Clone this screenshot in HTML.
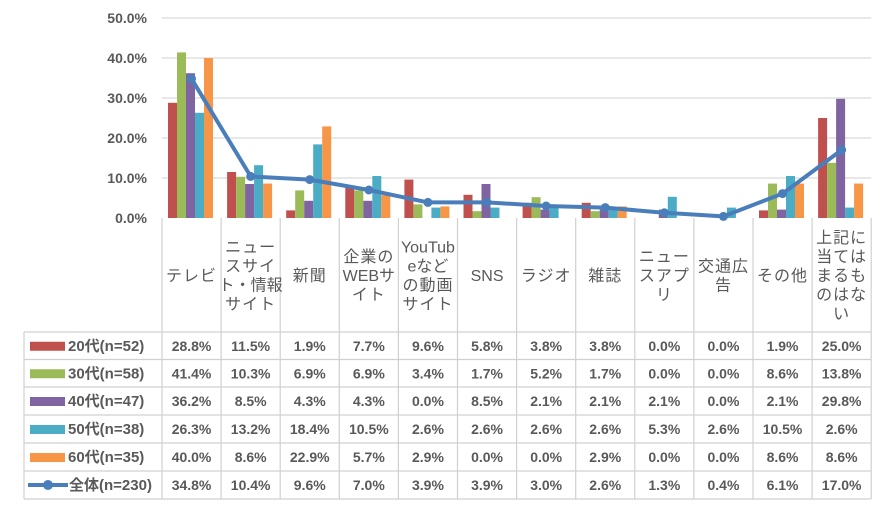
<!DOCTYPE html>
<html><head><meta charset="utf-8"><style>
body{margin:0;background:#fff;width:888px;height:502px;overflow:hidden}
svg text{font-family:"Liberation Sans","Noto Sans CJK JP",sans-serif;fill:#595959}
</style></head><body>
<svg id="chart" width="888" height="502" xmlns="http://www.w3.org/2000/svg"></svg>
<script>
const categories=["テレビ","ニュースサイト・情報サイト","新聞","企業のWEBサイト","YouTubeなどの動画サイト","SNS","ラジオ","雑誌","ニュースアプリ","交通広告","その他","上記に当てはまるものはない"];
const headerLines=[["テレビ"],["ニュー","スサイ","ト・情報","サイト"],["新聞"],["企業の","WEBサ","イト"],["YouTub","eなど","の動画","サイト"],["SNS"],["ラジオ"],["雑誌"],["ニュー","スアプ","リ"],["交通広","告"],["その他"],["上記に","当ては","まるも","のはな","い"]];
const seriesNames=["20代(n=52)","30代(n=58)","40代(n=47)","50代(n=38)","60代(n=35)"];
const s20=[28.8,11.5,1.9,7.7,9.6,5.8,3.8,3.8,0.0,0.0,1.9,25.0];
const s30=[41.4,10.3,6.9,6.9,3.4,1.7,5.2,1.7,0.0,0.0,8.6,13.8];
const s40=[36.2,8.5,4.3,4.3,0.0,8.5,2.1,2.1,2.1,0.0,2.1,29.8];
const s50=[26.3,13.2,18.4,10.5,2.6,2.6,2.6,2.6,5.3,2.6,10.5,2.6];
const s60=[40.0,8.6,22.9,5.7,2.9,0.0,0.0,2.9,0.0,0.0,8.6,8.6];
const total=[34.8,10.4,9.6,7.0,3.9,3.9,3.0,2.6,1.3,0.4,6.1,17.0];
const totalName="全体(n=230)";
const yTicks=[0,10,20,30,40,50];

const NS="http://www.w3.org/2000/svg";
const svg=document.getElementById('chart');
const colors=["#c0504d","#9bbb59","#8064a2","#4bacc6","#f79646"];
const lineColor="#4a7ebb";
const x0=162,cw=59.1,yBase=218,pxPer=4.0;
const xs=i=>x0+i*cw;
const ys=v=>yBase-v*pxPer;
function mk(t,a){const e=document.createElementNS(NS,t);for(const k in a)e.setAttribute(k,a[k]);svg.appendChild(e);return e;}
yTicks.forEach(t=>{
  if(t>0){const g=mk('line',{x1:x0,x2:x0+12*cw,y1:ys(t),y2:ys(t),stroke:'#d9d9d9','stroke-width':1.2});
  
  }
  const l=mk('text',{x:147,y:ys(t)+5,'text-anchor':'end','font-size':14,'font-weight':'bold'});
  l.textContent=t.toFixed(1)+'%';
  
  
});
const all=[s20,s30,s40,s50,s60];
const bw=9;
all.forEach((s,si)=>{
  s.forEach((v,i)=>{
    const r=mk('rect',{x:xs(i)+6+si*bw,y:ys(v),width:bw,height:v*pxPer,fill:colors[si]});
    
    
  });
});
const pts=total.map((v,i)=>(xs(i)+cw/2)+','+ys(v)).join(' ');
const pl=mk('polyline',{points:pts,fill:'none',stroke:lineColor,'stroke-width':4,'stroke-linejoin':'round'});


total.forEach((v,i)=>{
  const c=mk('circle',{cx:xs(i)+cw/2,cy:ys(v),r:4.5,fill:lineColor});
  
  
});
const rowTops=[332,359.5,387,415,443,471,499];
const grid='#d0d0d0';
for(let i=0;i<=12;i++){
  const l=mk('line',{x1:xs(i),x2:xs(i),y1:yBase,y2:499,stroke:grid,'stroke-width':1.2});
  
  
}
const lv=mk('line',{x1:24,x2:24,y1:332,y2:499,stroke:grid,'stroke-width':1.2});


rowTops.forEach(y=>{
  const l=mk('line',{x1:24,x2:xs(12),y1:y,y2:y,stroke:grid,'stroke-width':1.2});
  
  
});
headerLines.forEach((lines,i)=>{
  const lh=19,n=lines.length,start=275-(n-1)*lh/2;
  lines.forEach((s,k)=>{
    const t=mk('text',{x:xs(i)+cw/2,y:start+k*lh+6,'text-anchor':'middle','font-size':16,'letter-spacing':s.length<=3&&/^[^A-Za-z]+$/.test(s)?1:0});
    t.textContent=s;
    
    
  });
});
const rows=[...all,total];
const names=[...seriesNames,totalName];
rows.forEach((s,ri)=>{
  const yc=(rowTops[ri]+rowTops[ri+1])/2;
  if(ri<5){const k=mk('rect',{x:30,y:yc-4,width:35,height:9,fill:colors[ri]});
    
    }
  else{const k=mk('line',{x1:28,x2:68,y1:yc,y2:yc,stroke:lineColor,'stroke-width':4});
    
    
    const c=mk('circle',{cx:48,cy:yc,r:5,fill:lineColor});
    
    }
  const nt=mk('text',{x:ri<5?68:69,y:yc+5,'font-size':15,'font-weight':'bold'});
  nt.textContent=names[ri];
  
  
  s.forEach((v,i)=>{
    const t=mk('text',{x:xs(i)+cw/2,y:yc+5,'text-anchor':'middle','font-size':14,'font-weight':'bold'});
    t.textContent=v.toFixed(1)+'%';
    
    
  });
});
</script>
</body></html>
